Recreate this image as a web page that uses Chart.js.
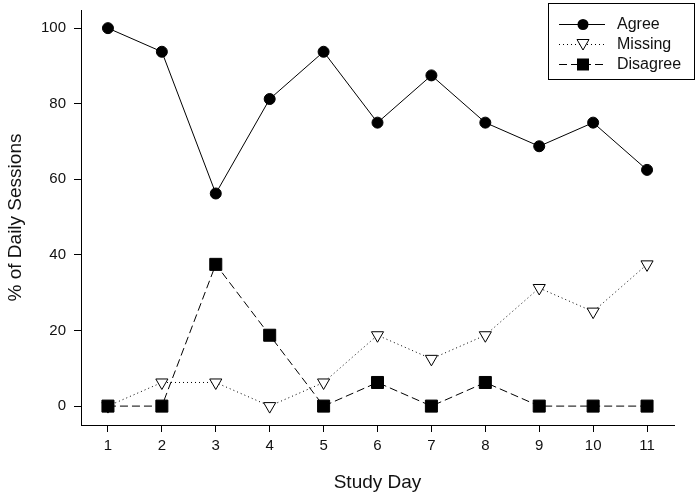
<!DOCTYPE html>
<html>
<head>
<meta charset="utf-8">
<script src="https://cdn.jsdelivr.net/npm/chart.js@4/dist/chart.umd.min.js"></script>
<style>
  html, body { margin: 0; padding: 0; background: #fff; }
  #wrap { width: 698px; height: 498px; }
</style>
</head>
<body>
<div id="wrap"><canvas id="chart" width="698" height="498"></canvas></div>
<script>
// study days and % of daily sessions per response
const days = [1, 2, 3, 4, 5, 6, 7, 8, 9, 10, 11];
const agree = [100, 93.75, 56.25, 81.25, 93.75, 75, 87.5, 75, 68.75, 75, 62.5];
const missing = [0, 6.25, 6.25, 0, 6.25, 18.75, 12.5, 18.75, 31.25, 25, 37.5];
const disagree = [0, 0, 37.5, 18.75, 0, 6.25, 0, 6.25, 0, 0, 0];
const yTicks = [0, 20, 40, 60, 80, 100];

const FONT = 'Arial, "Liberation Sans", sans-serif';
const TEXT = '#111';

function pts(ys) {
    return days.map((d, i) => ({ x: d, y: ys[i] }));
}

// legend box drawn by hand, top right
const boxLegend = {
    id: 'boxLegend',
    afterDraw(chart) {
        const ctx = chart.ctx;
        ctx.save();
        ctx.strokeStyle = '#000';
        ctx.lineWidth = 1;
        ctx.strokeRect(548.5, 3.5, 146, 76);

        const rows = [
            { label: 'Agree', y: 24, dash: [], mark: 'circle' },
            { label: 'Missing', y: 44, dash: [1, 3], mark: 'tri' },
            { label: 'Disagree', y: 64, dash: [8, 4], mark: 'rect' }
        ];
        rows.forEach(r => {
            ctx.setLineDash(r.dash);
            ctx.beginPath();
            ctx.moveTo(559, r.y + 0.5);
            ctx.lineTo(605, r.y + 0.5);
            ctx.stroke();
            ctx.setLineDash([]);
            const cx = 583;
            ctx.beginPath();
            if (r.mark === 'circle') {
                ctx.arc(cx, r.y + 0.5, 5.5, 0, Math.PI * 2);
                ctx.fillStyle = '#000';
                ctx.fill();
            } else if (r.mark === 'rect') {
                ctx.rect(cx - 6, r.y - 5.5, 12, 12);
                ctx.fillStyle = '#000';
                ctx.fill();
            } else {
                ctx.moveTo(cx - 6, r.y - 4.5);
                ctx.lineTo(cx + 6, r.y - 4.5);
                ctx.lineTo(cx, r.y + 6);
                ctx.closePath();
                ctx.fillStyle = '#fff';
                ctx.fill();
                ctx.stroke();
            }
            ctx.fillStyle = TEXT;
            ctx.font = '16px ' + FONT;
            ctx.textBaseline = 'middle';
            ctx.textAlign = 'left';
            ctx.fillText(r.label, 617, r.y + 1);
        });
        ctx.restore();
    }
};

new Chart(document.getElementById('chart').getContext('2d'), {
    type: 'line',
    data: {
        datasets: [
            {
                label: 'Agree',
                data: pts(agree),
                order: 0,
                borderColor: '#000',
                borderWidth: 1,
                backgroundColor: '#000',
                pointStyle: 'circle',
                pointRadius: 5.5,
                pointBorderWidth: 1
            },
            {
                label: 'Missing',
                data: pts(missing),
                order: 2,
                borderColor: '#000',
                borderWidth: 1,
                borderDash: [1, 3],
                backgroundColor: '#fff',
                pointStyle: 'triangle',
                pointRotation: 180,
                pointRadius: 7,
                pointBorderWidth: 1
            },
            {
                label: 'Disagree',
                data: pts(disagree),
                order: 1,
                borderColor: '#000',
                borderWidth: 1,
                borderDash: [8, 4],
                backgroundColor: '#000',
                pointStyle: 'rect',
                pointRadius: 8.5,
                pointBorderWidth: 1
            }
        ]
    },
    options: {
        responsive: false,
        animation: false,
        clip: false,
        layout: { padding: { left: 0, right: 24, top: 10, bottom: 0 } },
        plugins: { legend: { display: false }, tooltip: { enabled: false } },
        scales: {
            x: {
                type: 'linear',
                min: 0.5,
                max: 11.5,
                afterFit(scale) { scale.height = 73; },
                afterBuildTicks(scale) { scale.ticks = days.map(v => ({ value: v })); },
                grid: { drawOnChartArea: false, tickLength: 7, tickColor: '#000' },
                border: { display: true, color: '#000', width: 1 },
                ticks: { color: TEXT, font: { family: FONT, size: 15 }, padding: 5 },
                title: {
                    display: true,
                    text: 'Study Day',
                    color: TEXT,
                    font: { family: FONT, size: 19 },
                    padding: { top: 0, bottom: 4 }
                }
            },
            y: {
                min: -5,
                max: 104.8,
                afterFit(scale) {
                    scale.width = 81;
                    scale.paddingTop = 0;
                    scale.paddingBottom = 0;
                },
                afterBuildTicks(scale) { scale.ticks = yTicks.map(v => ({ value: v })); },
                grid: { drawOnChartArea: false, tickLength: 7, tickColor: '#000' },
                border: { display: true, color: '#000', width: 1 },
                ticks: { color: TEXT, font: { family: FONT, size: 15 }, padding: 8 },
                title: {
                    display: true,
                    text: '% of Daily Sessions',
                    color: TEXT,
                    font: { family: FONT, size: 19 },
                    padding: { top: 4, bottom: 0 }
                }
            }
        }
    },
    plugins: [boxLegend]
});
</script>
</body>
</html>
